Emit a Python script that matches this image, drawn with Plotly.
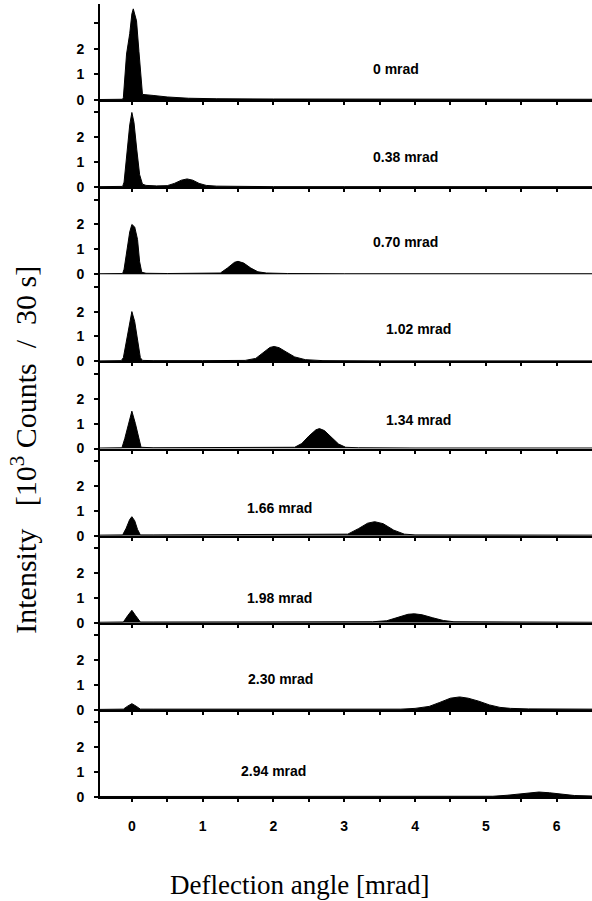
import plotly.graph_objects as go
from plotly.subplots import make_subplots

# ---- data ----
panel_labels = ["0 mrad", "0.38 mrad", "0.70 mrad", "1.02 mrad", "1.34 mrad",
                "1.66 mrad", "1.98 mrad", "2.30 mrad", "2.94 mrad"]

x1 = [-0.45, -0.13, -0.12, -0.075, -0.03, 0.0, 0.02, 0.066, 0.1, 0.13, 0.15, 0.3, 0.5, 0.8, 1.2, 2.0, 3.0, 4.0, 5.0, 6.0, 6.5]
y1 = [0.02, 0.03, 0.1, 1.8, 2.6, 3.37, 3.57, 3.1, 1.9, 0.63, 0.22, 0.18, 0.12, 0.07, 0.05, 0.04, 0.04, 0.04, 0.04, 0.03, 0.03]

x2 = [-0.45, -0.13, -0.11, -0.07, -0.03, 0.0, 0.03, 0.07, 0.11, 0.15, 0.2, 0.35, 0.5, 0.6, 0.7, 0.78, 0.86, 0.95, 1.05, 1.2, 1.5, 2.0, 3.0, 4.0, 5.0, 6.0, 6.5]
y2 = [0.02, 0.03, 0.2, 1.5, 2.5, 3.0, 2.6, 1.5, 0.5, 0.12, 0.07, 0.05, 0.06, 0.15, 0.28, 0.33, 0.28, 0.15, 0.07, 0.04, 0.03, 0.02, 0.02, 0.02, 0.02, 0.02, 0.02]

x3 = [-0.45, -0.13, -0.11, -0.07, -0.03, 0.0, 0.04, 0.08, 0.11, 0.14, 0.2, 0.5, 1.0, 1.25, 1.35, 1.45, 1.5, 1.58, 1.68, 1.78, 1.9, 2.2, 3.0, 4.0, 5.0, 6.0, 6.5]
y3 = [0.02, 0.03, 0.2, 1.0, 1.7, 2.0, 1.9, 1.4, 0.5, 0.08, 0.04, 0.03, 0.03, 0.05, 0.25, 0.48, 0.52, 0.45, 0.25, 0.1, 0.05, 0.03, 0.02, 0.02, 0.02, 0.02, 0.02]

x4 = [-0.45, -0.15, -0.12, -0.08, -0.04, 0.0, 0.04, 0.08, 0.12, 0.15, 0.3, 1.0, 1.6, 1.75, 1.85, 1.95, 2.01, 2.08, 2.18, 2.3, 2.45, 2.7, 3.5, 4.5, 5.5, 6.5]
y4 = [0.02, 0.03, 0.15, 0.8, 1.5, 2.0, 1.6, 0.8, 0.15, 0.04, 0.03, 0.03, 0.04, 0.12, 0.35, 0.56, 0.6, 0.55, 0.38, 0.18, 0.07, 0.03, 0.02, 0.02, 0.02, 0.02]

x5 = [-0.45, -0.14, -0.1, -0.05, 0.0, 0.05, 0.1, 0.13, 0.3, 1.0, 2.0, 2.3, 2.4, 2.5, 2.6, 2.65, 2.72, 2.82, 2.92, 3.02, 3.2, 4.0, 5.0, 6.0, 6.5]
y5 = [0.02, 0.03, 0.4, 1.0, 1.5, 1.0, 0.4, 0.05, 0.03, 0.03, 0.03, 0.05, 0.2, 0.5, 0.75, 0.8, 0.72, 0.45, 0.18, 0.05, 0.03, 0.02, 0.02, 0.02, 0.02]

x6 = [-0.45, -0.13, -0.08, -0.03, 0.0, 0.04, 0.08, 0.12, 0.3, 1.5, 2.9, 3.05, 3.2, 3.33, 3.43, 3.55, 3.7, 3.85, 4.0, 5.0, 6.5]
y6 = [0.02, 0.03, 0.3, 0.65, 0.76, 0.6, 0.25, 0.03, 0.03, 0.03, 0.03, 0.06, 0.28, 0.5, 0.56, 0.48, 0.22, 0.06, 0.03, 0.02, 0.02]

x7 = [-0.45, -0.12, -0.06, 0.0, 0.05, 0.12, 0.3, 2.0, 3.4, 3.6, 3.75, 3.9, 3.99, 4.1, 4.25, 4.4, 4.55, 5.0, 6.5]
y7 = [0.02, 0.03, 0.28, 0.5, 0.3, 0.03, 0.03, 0.03, 0.04, 0.08, 0.22, 0.34, 0.36, 0.32, 0.2, 0.09, 0.04, 0.03, 0.02]

x8 = [-0.45, -0.12, -0.06, 0.0, 0.06, 0.12, 0.3, 2.0, 3.8, 4.0, 4.2, 4.35, 4.5, 4.63, 4.75, 4.9, 5.05, 5.2, 5.35, 5.6, 6.5]
y8 = [0.02, 0.03, 0.15, 0.25, 0.15, 0.03, 0.03, 0.02, 0.03, 0.06, 0.14, 0.3, 0.47, 0.52, 0.47, 0.35, 0.2, 0.1, 0.06, 0.04, 0.03]

x9 = [-0.45, 2.0, 4.5, 5.1, 5.3, 5.5, 5.65, 5.75, 5.9, 6.05, 6.25, 6.5]
y9 = [0.02, 0.02, 0.02, 0.03, 0.07, 0.14, 0.19, 0.2, 0.17, 0.11, 0.06, 0.04]

xs = [x1, x2, x3, x4, x5, x6, x7, x8, x9]
ys = [y1, y2, y3, y4, y5, y6, y7, y8, y9]

# label positions (data coords)
label_x = [3.73, 3.87, 3.87, 4.05, 4.05, 2.08, 2.08, 2.10, 2.00]
label_y = [1.2, 1.2, 1.3, 1.3, 1.15, 1.1, 1.0, 1.25, 1.05]

x_tick_vals = [0, 0.5, 1, 1.5, 2, 2.5, 3, 3.5, 4, 4.5, 5, 5.5, 6]
x_tick_text = ["0", "", "1", "", "2", "", "3", "", "4", "", "5", "", "6"]
y_tick_vals = [0, 1, 2, 3]
y_tick_text = ["0", "1", "2", ""]

n = len(xs)
fig = make_subplots(rows=n, cols=1, shared_xaxes=True, vertical_spacing=0,
                    row_heights=[96] + [87.1] * (n - 1))

tickfont = dict(family="Liberation Sans, Arial, sans-serif", size=14, color="black")

def bold(lst):
    return [f"<b>{t}</b>" if t else "" for t in lst]

for i in range(n):
    r = i + 1
    fig.add_trace(go.Scatter(x=xs[i], y=ys[i], mode="lines", fill="tozeroy",
                             fillcolor="black", line=dict(color="black", width=1),
                             showlegend=False, hoverinfo="skip"), row=r, col=1)
    fig.update_xaxes(range=[-0.45, 6.5], showline=True, linecolor="black", linewidth=2,
                     ticks="outside", ticklen=3, tickwidth=2, tickcolor="black",
                     tickvals=x_tick_vals, ticktext=bold(x_tick_text),
                     showgrid=False, zeroline=False, tickfont=tickfont,
                     ticklabelstandoff=12,
                     showticklabels=(r == n), row=r, col=1)
    top = 3.76 if r == 1 else 3.5
    fig.update_yaxes(range=[0, top], showline=True, linecolor="black", linewidth=2,
                     ticks="outside", ticklen=4, tickwidth=2, tickcolor="black",
                     tickvals=y_tick_vals, ticktext=bold(y_tick_text),
                     showgrid=False, zeroline=False, tickfont=tickfont,
                     ticklabelstandoff=7,
                     row=r, col=1)
    xref = "x" if r == 1 else f"x{r}"
    yref = "y" if r == 1 else f"y{r}"
    fig.add_annotation(x=label_x[i], y=label_y[i], xref=xref, yref=yref,
                       text=f"<b>{panel_labels[i]}</b>", showarrow=False,
                       font=dict(family="Liberation Sans, Arial, sans-serif", size=14, color="black"))

fig.add_annotation(x=-0.155, y=0.4376, xref="paper", yref="paper",
                   text="Intensity&nbsp;&nbsp;&nbsp;[10<sup>3</sup>&nbsp;Counts&nbsp;&nbsp;/&nbsp;&nbsp;30&nbsp;s]",
                   textangle=-90,
                   showarrow=False, xanchor="center", yanchor="middle",
                   font=dict(family="Liberation Serif, Times New Roman, serif", size=30, color="black"))
fig.add_annotation(x=0.4065, y=-0.111, xref="paper", yref="paper",
                   text="Deflection angle [mrad]", showarrow=False,
                   xanchor="center", yanchor="middle",
                   font=dict(family="Liberation Serif, Times New Roman, serif", size=27, color="black"))

fig.update_layout(width=592, height=901, margin=dict(l=100, r=0, t=4, b=104),
                  plot_bgcolor="white", paper_bgcolor="white")

fig.write_html("out.html", config={"displayModeBar": False},
               post_script="document.body.style.margin='0';document.body.style.overflow='hidden';")
